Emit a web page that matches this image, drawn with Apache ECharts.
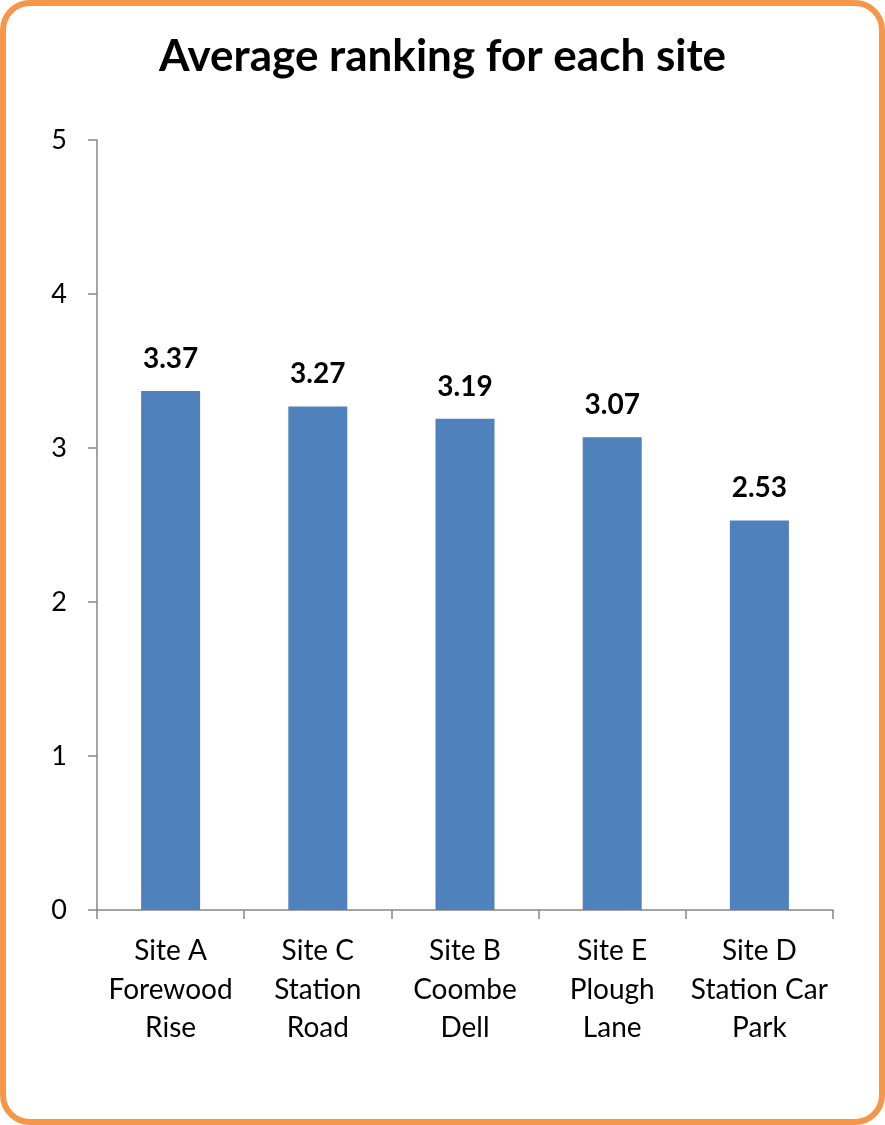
<!DOCTYPE html>
<html><head><meta charset="utf-8">
<script src="https://cdn.jsdelivr.net/npm/echarts@6/dist/echarts.min.js"></script>
<style>
html,body{margin:0;padding:0;background:#fff;}
#wrap{position:absolute;left:0;top:0;width:885px;height:1125px;box-sizing:border-box;border:6px solid #F79646;border-radius:30px;background:#fff;}
#chart{position:absolute;left:0;top:0;width:885px;height:1125px;}
</style></head>
<body>
<div id="wrap"></div>
<div id="chart"></div>
<script>
const categories = ["Site A\nForewood\nRise", "Site C\nStation\nRoad", "Site B\nCoombe\nDell", "Site E\nPlough\nLane", "Site D\nStation Car\nPark"];
const values = [3.37, 3.27, 3.19, 3.07, 2.53];
const yTicks = [0, 1, 2, 3, 4, 5];
const title = "Average ranking for each site";

const font = "Lato, 'Open Sans', sans-serif";
const chart = echarts.init(document.getElementById('chart'), null, {renderer: 'canvas'});
chart.setOption({
  animation: false,
  title: {text: title, left: 'center', top: 30, textStyle: {fontFamily: font, fontWeight: 'bold', fontSize: 44, color: '#000'}},
  grid: {left: 97, right: 52, top: 140, bottom: 215, containLabel: false},
  xAxis: {
    type: 'category', data: categories,
    axisLine: {lineStyle: {color: '#868686', width: 1.5}},
    axisTick: {show: true, length: 9, alignWithLabel: false, lineStyle: {color: '#868686', width: 1.5}},
    axisLabel: {fontFamily: font, fontSize: 28, color: '#000', lineHeight: 38.5, margin: 22, interval: 0}
  },
  yAxis: {
    type: 'value', min: yTicks[0], max: yTicks[yTicks.length-1], interval: 1,
    axisLine: {show: true, lineStyle: {color: '#868686', width: 1.5}},
    axisTick: {show: true, length: 9, lineStyle: {color: '#868686', width: 1.5}},
    splitLine: {show: false},
    axisLabel: {fontFamily: font, fontSize: 27, color: '#000', margin: 30}
  },
  series: [{
    type: 'bar', data: values, barWidth: 59,
    itemStyle: {color: '#4F81BD'},
    label: {show: true, position: 'top', distance: 18, fontFamily: font, fontWeight: 'bold', fontSize: 28, color: '#000', formatter: p => p.value.toFixed(2)}
  }]
});
</script>
</body></html>
